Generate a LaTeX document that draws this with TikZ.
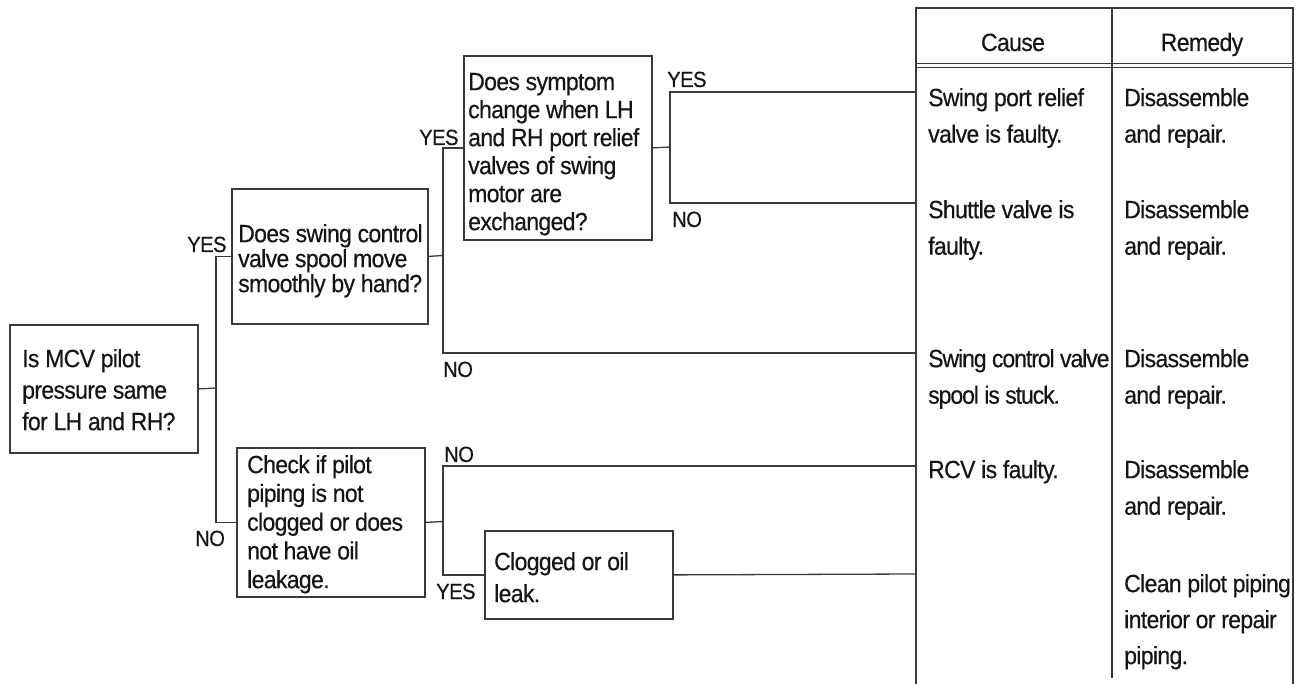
\documentclass[tikz,border=0pt]{standalone}
\usepackage{fontspec}
\setmainfont{Liberation Sans}[FakeStretch=0.92, LetterSpace=-2.6, FakeBold=0.35]
\definecolor{linec}{HTML}{3A3A3A}
\definecolor{textc}{HTML}{141414}
\begin{document}
\begin{tikzpicture}[x=1pt,y=-1pt,
  box/.style={draw=linec, line width=1.8pt, inner sep=0pt, anchor=north west},
  txt/.style={inner sep=0pt, anchor=north west, align=left, text=textc},
  lbl/.style={inner sep=0pt, anchor=base west, text=textc, font=\fontsize{22}{24}\selectfont},
  conn/.style={draw=linec, line width=1.3pt},
  tbl/.style={draw=linec, line width=1.3pt},
  tblout/.style={draw=linec, line width=2.2pt}
]
\useasboundingbox (0,0) rectangle (1302,684);

% boxes
\node[box, minimum width=188, minimum height=128] (b1) at (9,324) {};
\node[box, minimum width=196, minimum height=135] (b2) at (231,188) {};
\node[box, minimum width=188, minimum height=184] (b3) at (463,55) {};
\node[box, minimum width=188, minimum height=149] (b4) at (236,447) {};
\node[box, minimum width=188, minimum height=88] (b5) at (484,530) {};

% box texts
\node[txt, font=\fontsize{25}{31.5}\selectfont] (tb1) at (22,348) {\rule{0pt}{19pt}Is MCV pilot\\pressure same\\for LH and RH?};
\node[txt, font=\fontsize{25}{25}\selectfont] (tb2) at (238,223) {\rule{0pt}{19pt}Does swing control\\valve spool move\\smoothly by hand?};
\node[txt, font=\fontsize{25}{28}\selectfont] (tb3) at (468,71) {\rule{0pt}{19pt}Does symptom\\change when LH\\and RH port relief\\valves of swing\\motor are\\exchanged?};
\node[txt, font=\fontsize{25}{28.75}\selectfont] (tb4) at (247,454) {\rule{0pt}{19pt}Check if pilot\\piping is not\\clogged or does\\not have oil\\leakage.};
\node[txt, font=\fontsize{25}{32}\selectfont] (tb5) at (494,551) {\rule{0pt}{19pt}Clogged or oil\\leak.};

% table
\draw[tblout] (916,684) -- (916,8) -- (1293,8) -- (1293,684);
\draw[tbl] (1112,8) -- (1112,678);
\draw[tbl, line width=1.1pt] (916,63.3) -- (1293,63.3);
\draw[tbl, line width=1.1pt] (916,67.7) -- (1293,67.7);
\node[inner sep=0pt, anchor=base, text=textc, font=\fontsize{25}{28}\selectfont] (hc) at (1013,51) {Cause};
\node[inner sep=0pt, anchor=base, text=textc, font=\fontsize{25}{28}\selectfont] (hr) at (1202,51) {Remedy};

% table cells
\tikzset{cell/.style={txt, font=\fontsize{25}{36.5}\selectfont}}
\node[cell] (c1) at (928,87) {\rule{0pt}{19pt}Swing port relief\\valve is faulty.};
\node[cell] (m1) at (1124,87) {\rule{0pt}{19pt}Disassemble\\and repair.};
\node[cell] (c2) at (928,199) {\rule{0pt}{19pt}Shuttle valve is\\faulty.};
\node[cell] (m2) at (1124,199) {\rule{0pt}{19pt}Disassemble\\and repair.};
\node[cell, font=\fontsize{25}{36.5}\selectfont\addfontfeatures{LetterSpace=-4.2}] (c3) at (928,348) {\rule{0pt}{19pt}Swing control valve\\spool is stuck.};
\node[cell] (m3) at (1124,348) {\rule{0pt}{19pt}Disassemble\\and repair.};
\node[cell] (c4) at (928,459) {\rule{0pt}{19pt}RCV is faulty.};
\node[cell] (m4) at (1124,459) {\rule{0pt}{19pt}Disassemble\\and repair.};
\node[cell, font=\fontsize{25}{36}\selectfont] (m5) at (1124,573) {\rule{0pt}{19pt}Clean pilot piping\\interior or repair\\piping.};

% junctions and table entry points
\coordinate (j1) at (216,388);
\coordinate (j2) at (443,255.5);
\coordinate (j3) at (670,147);
\coordinate (j4) at (443,521.5);
\coordinate (r1) at (916,92);
\coordinate (r2) at (916,203);
\coordinate (r3) at (916,353);
\coordinate (r4) at (916,466);
\coordinate (r5) at (916,574);

% connectors
\draw[conn] (b1.east) -- (j1);
\draw[conn] (j1) |- (b2.west);
\draw[conn] (j1) |- (b4.west);
\draw[conn] (b2.east) -- (j2);
\draw[conn] (j2) |- (b3.west);
\draw[conn] (j2) |- (r3);
\draw[conn] (b3.east) -- (j3);
\draw[conn] (j3) |- (r1);
\draw[conn] (j3) |- (r2);
\draw[conn] (b4.east) -- (j4);
\draw[conn] (j4) |- (r4);
\draw[conn] (j4) |- (b5.west);
\draw[conn] (b5.east) -- (r5);

% labels
\node[lbl] (y1) at (187,252) {YES};
\node[lbl] (n1) at (195,546) {NO};
\node[lbl] (y2) at (419,145) {YES};
\node[lbl] (n2) at (443,377) {NO};
\node[lbl] (y3) at (667,87) {YES};
\node[lbl] (n3) at (672,227) {NO};
\node[lbl] (n4) at (444,462) {NO};
\node[lbl] (y4) at (436,599) {YES};
\end{tikzpicture}
\end{document}
